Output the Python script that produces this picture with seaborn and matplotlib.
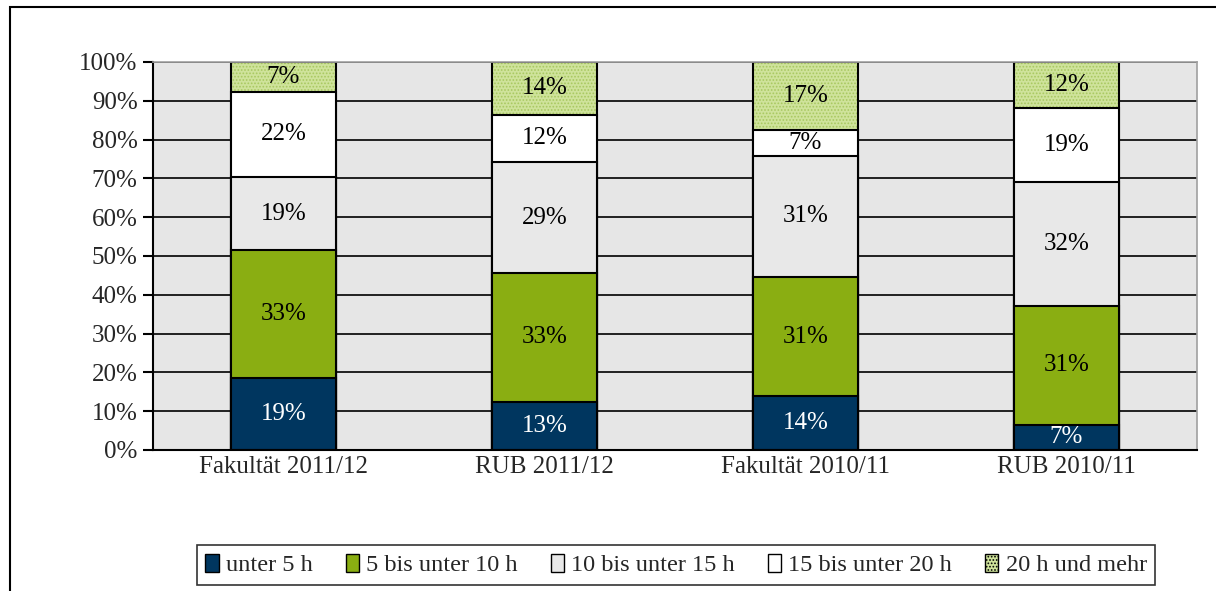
import matplotlib
matplotlib.use("Agg")
import matplotlib.pyplot as plt
from matplotlib.patches import Patch, Rectangle
import numpy as np
import pandas as pd
import seaborn as sns

# categories and series (shares in %)
groups = ["Fakultät 2011/12", "RUB 2011/12", "Fakultät 2010/11", "RUB 2010/11"]
series = ["unter 5 h", "5 bis unter 10 h", "10 bis unter 15 h",
          "15 bis unter 20 h", "20 h und mehr"]
unter_5 = [18.6, 12.4, 13.9, 6.5]
bis_10 = [32.9, 33.2, 30.7, 30.7]
bis_15 = [18.9, 28.6, 31.2, 32.0]
bis_20 = [21.9, 12.2, 6.7, 18.9]
mehr_20 = [7.7, 13.6, 17.5, 11.9]
# printed labels
lab_5 = ["19%", "13%", "14%", "7%"]
lab_10 = ["33%", "33%", "31%", "31%"]
lab_15 = ["19%", "29%", "31%", "32%"]
lab_20 = ["22%", "12%", "7%", "19%"]
lab_mehr = ["7%", "14%", "17%", "12%"]
yticks = [0, 10, 20, 30, 40, 50, 60, 70, 80, 90, 100]

colors = ["#00365f", "#8aae12", "#e8e8e8", "#ffffff", "#cfe39b"]
hatch_col = "#a8c860"

sns.set_theme(style="white")
plt.rcParams["font.family"] = ["Liberation Serif", "DejaVu Serif"]
plt.rcParams["hatch.linewidth"] = 0.8

df = pd.DataFrame({"group": groups, "s1": unter_5, "s2": bis_10, "s3": bis_15,
                   "s4": bis_20, "s5": mehr_20})
cols = ["s1", "s2", "s3", "s4", "s5"]
cum = df[cols].cumsum(axis=1)

fig = plt.figure(figsize=(12.16, 5.91), dpi=100)
ax = fig.add_axes([153 / 1216, 141 / 591, 1044 / 1216, 388 / 591])
ax.set_facecolor("#e6e6e6")

# top (hatched) layer first, then lower cumulative layers on top
sns.barplot(x=df["group"], y=cum["s5"], color=colors[4], width=0.4, ax=ax,
            edgecolor=hatch_col, linewidth=0, hatch=".....", saturation=1)
sns.barplot(x=df["group"], y=cum["s5"], width=0.4, ax=ax, fill=False,
            edgecolor="black", linewidth=1.5)
for i in [3, 2, 1, 0]:
    sns.barplot(x=df["group"], y=cum[cols[i]], color=colors[i], width=0.4,
                ax=ax, edgecolor="black", linewidth=1.5, saturation=1)

# segment labels
labels = [lab_5, lab_10, lab_15, lab_20, lab_mehr]
for i, c in enumerate(cols):
    base = cum[c] - df[c]
    for j in range(len(groups)):
        ax.text(j, base[j] + df[c][j] / 2, labels[i][j], ha="center", va="center",
                fontsize=18, color="white" if i == 0 else "black")

ax.set_xlim(-0.5, 3.5)
ax.set_ylim(0, 100)
ax.set_yticks(yticks)
ax.set_yticklabels([f"{t}%" for t in yticks], fontsize=18)
ax.set_xticks(range(len(groups)))
ax.set_xticklabels(groups, fontsize=18)
ax.set_xticks([-0.5, 0.5, 1.5, 2.5, 3.5], minor=True)
ax.tick_params(axis="x", which="major", length=0, pad=4)
ax.tick_params(axis="x", which="minor", length=7, width=1.5, color="black", direction="out")
ax.tick_params(axis="y", length=7, width=1.5, color="black", direction="out", left=True, pad=4)
ax.set_xlabel("")
ax.set_ylabel("")
ax.set_axisbelow(True)
ax.yaxis.grid(True, color="black", linewidth=1.2)
ax.xaxis.grid(False)
for s in ["left", "bottom"]:
    ax.spines[s].set_color("black")
    ax.spines[s].set_linewidth(1.5)
for s in ["top", "right"]:
    ax.spines[s].set_color("#a0a0a0")
    ax.spines[s].set_linewidth(1.2)

handles = []
for i, name in enumerate(series):
    if i == 4:
        handles.append(Patch(facecolor=colors[i], edgecolor="black", hatch=".....", label=name))
    else:
        handles.append(Patch(facecolor=colors[i], edgecolor="black", label=name))
leg = fig.legend(handles=handles, loc="center", bbox_to_anchor=(676 / 1216, 26 / 591),
                 ncol=5, fontsize=17.5, frameon=True, fancybox=False, handlelength=0.55,
                 handleheight=0.8, handletextpad=0.3, columnspacing=1.35, borderpad=0.35)
leg.get_frame().set_edgecolor("black")
leg.get_frame().set_linewidth(1.2)

# outer chart frame (cut at right and bottom)
fig.patches.append(Rectangle((10 / 1216, -0.1), 1.2, (591 - 7) / 591 + 0.1,
                             transform=fig.transFigure, fill=False,
                             edgecolor="black", linewidth=1.5))

fig.savefig("out.png", dpi=100)
